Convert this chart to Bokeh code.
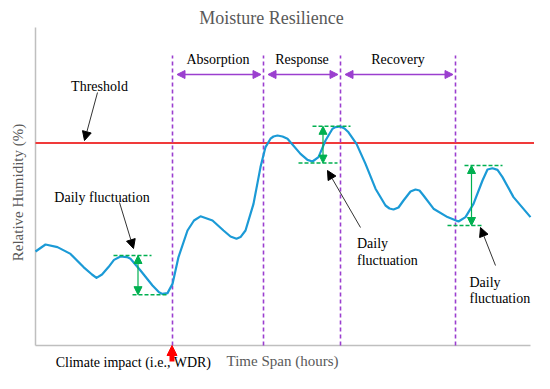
import math
from bokeh.plotting import figure
from bokeh.models import Range1d, Arrow, NormalHead, ColumnDataSource
from bokeh.core.properties import value
from bokeh.embed import file_html
from bokeh.resources import INLINE

# ---------------- data ----------------
hours = [0.0, 2.0, 4.4, 7.0, 9.6, 11.3, 12.2, 13.3, 14.6, 15.7, 17.0, 18.3, 19.0,
         21.0, 23.4, 24.7, 25.4, 26.4, 27.4, 28.6, 30.4, 31.7, 33.0, 35.4, 37.6,
         39.0, 40.2, 41.0, 42.0, 43.6, 45.0, 46.0, 47.0, 47.6, 48.4, 49.4, 50.4,
         53.0, 54.4, 55.4, 56.6, 58.0, 59.4, 60.0, 61.0, 61.8, 62.6, 64.2, 66.0,
         68.0, 70.0, 70.8, 71.6, 72.6, 73.6, 75.0, 76.0, 76.8, 77.6, 79.6, 82.4,
         84.6, 86.0, 87.6, 89.4, 90.4, 91.4, 92.4, 93.4, 95.6, 99.0]
rh = [53.5, 55.25, 54.6, 52.9, 49.6, 47.75, 46.9, 47.75, 49.6, 51.4, 52.25, 52.1, 51.7,
      48.75, 45.0, 43.3, 42.9, 43.1, 45.4, 52.1, 58.75, 61.25, 62.3, 61.25, 58.75,
      57.25, 56.7, 57.1, 58.75, 65.4, 74.6, 79.6, 81.7, 82.25, 82.5, 82.25, 81.7,
      77.9, 76.4, 76.0, 77.1, 81.25, 84.2, 84.6, 84.75, 84.25, 83.3, 80.4, 75.4,
      69.2, 65.0, 64.25, 64.0, 64.5, 66.25, 68.5, 69.0, 68.75, 67.5, 64.2, 62.1,
      61.0, 62.1, 65.4, 71.25, 74.0, 74.3, 73.9, 72.1, 67.1, 62.1]

threshold = 80.6
phase_names = ["Absorption", "Response", "Recovery"]
phase_bounds = [27.4, 45.6, 61.0, 84.0]
wdr_time = 27.3

fluct_x = [20.5, 57.5, 87.2]
fluct_high = [52.5, 84.8, 75.0]
fluct_low = [42.7, 75.6, 60.0]

title_text = "Moisture Resilience"
x_label = "Time Span (hours)"
y_label = "Relative Humidity (%)"
impact_text = "Climate impact (i.e., WDR)"

# ---------------- styles ----------------
SERIF = value("Liberation Serif")
BLUE = "#1B9AD6"
RED = "#F03A3A"
PURPLE = "#9B3FCF"
GREEN = "#00B050"
GREY_TXT = "#595959"
GREY_AX = "#BFBFBF"
DARK = "#333333"

y_base = 30.0
y_axis_top = 109.5

p = figure(width=534, height=373,
           x_range=Range1d(-7.0, 99.8), y_range=Range1d(23.0, 116.25),
           output_backend="svg", toolbar_location=None, min_border=0,
           x_axis_type=None, y_axis_type=None)
p.outline_line_color = None
p.background_fill_color = "white"
p.border_fill_color = "white"

# axes lines
p.line([hours[0], hours[0]], [y_base, y_axis_top], line_color=GREY_AX, line_width=1.5)
p.line([hours[0], hours[-1]], [y_base, y_base], line_color=GREY_AX, line_width=1.5)

# threshold
p.line([hours[0], p.x_range.end + 1], [threshold, threshold], line_color=RED, line_width=2)

# phase boundaries
p.segment(x0=phase_bounds, y0=[y_base] * 4, x1=phase_bounds, y1=[102.5] * 4,
          line_color=PURPLE, line_width=1.6, line_dash="4 3")
mids = [(phase_bounds[i] + phase_bounds[i + 1]) / 2 for i in range(3)]
for i in range(3):
    p.add_layout(Arrow(x_start=phase_bounds[i] + 0.9, y_start=97.75,
                       x_end=phase_bounds[i + 1] - 0.5, y_end=97.75,
                       line_color=PURPLE, line_width=1.5,
                       start=NormalHead(size=8, fill_color=PURPLE, line_color=PURPLE),
                       end=NormalHead(size=8, fill_color=PURPLE, line_color=PURPLE)))
p.text(x=mids, y=[101.6] * 3, text=phase_names, text_align="center",
       text_baseline="alphabetic", text_font=SERIF, text_font_size="14px",
       text_color="black")

# humidity curve
p.line(hours, rh, line_color=BLUE, line_width=2.2, line_join="round")

# daily fluctuation markers
top_off = [(-4.9, 2.7), (-2.1, 5.5), (-1.4, 6.2)]
bot_off = [(-1.1, 6.1), (-4.9, 2.9), (-4.8, 2.4)]
for i in range(3):
    fx = fluct_x[i]
    p.segment(x0=[fx + top_off[i][0], fx + bot_off[i][0]],
              y0=[fluct_high[i], fluct_low[i]],
              x1=[fx + top_off[i][1], fx + bot_off[i][1]],
              y1=[fluct_high[i], fluct_low[i]],
              line_color=GREEN, line_width=1.5, line_dash="4 2")
    p.add_layout(Arrow(x_start=fx, y_start=fluct_low[i], x_end=fx, y_end=fluct_high[i],
                       line_color=GREEN, line_width=1.2,
                       start=NormalHead(size=8, fill_color=GREEN, line_color=GREEN),
                       end=NormalHead(size=8, fill_color=GREEN, line_color=GREEN)))

# pointer arrows
pointers = [(12.4, 93.25, 9.8, 81.25),
            (16.8, 65.75, 19.6, 54.25),
            (65.0, 59.5, 58.4, 73.75),
            (92.0, 50.0, 89.0, 59.5)]
for (xs, ys, xe, ye) in pointers:
    p.add_layout(Arrow(x_start=xs, y_start=ys, x_end=xe, y_end=ye,
                       line_color=DARK, line_width=1,
                       end=NormalHead(size=9, fill_color="black", line_color="black")))

ann = ColumnDataSource(dict(
    x=[12.8, 13.3, 64.3, 64.3, 86.8, 86.8],
    y=[94.75, 67.1, 55.4, 51.25, 45.8, 41.7],
    t=["Threshold", "Daily fluctuation", "Daily", "fluctuation", "Daily", "fluctuation"],
    a=["center", "center", "left", "left", "left", "left"]))
p.text(x="x", y="y", text="t", text_align="a", source=ann, text_baseline="alphabetic",
       text_font=SERIF, text_font_size="14px", text_color="black")

# WDR impact arrow
p.add_layout(Arrow(x_start=wdr_time, y_start=26.0, x_end=wdr_time, y_end=y_base,
                   line_color="#FF0000", line_width=5,
                   end=NormalHead(size=10, fill_color="#FF0000", line_color="#FF0000")))
p.text(x=[19.6], y=[25.75], text=[impact_text], text_align="center",
       text_baseline="alphabetic", text_font=SERIF, text_font_size="14px",
       text_color="black")

# title and axis labels
p.text(x=[47.2], y=[111.9], text=[title_text], text_align="center",
       text_baseline="alphabetic", text_font=SERIF, text_font_size="18px",
       text_color=GREY_TXT)
p.text(x=[49.4], y=[26.25], text=[x_label], text_align="center",
       text_baseline="alphabetic", text_font=SERIF, text_font_size="15px",
       text_color=GREY_TXT)
p.text(x=[-3.5], y=[68.25], text=[y_label], angle=math.pi / 2, text_align="center",
       text_baseline="alphabetic", text_font=SERIF, text_font_size="15px",
       text_color=GREY_TXT)

open("out.html", "w").write(file_html(p, INLINE))
